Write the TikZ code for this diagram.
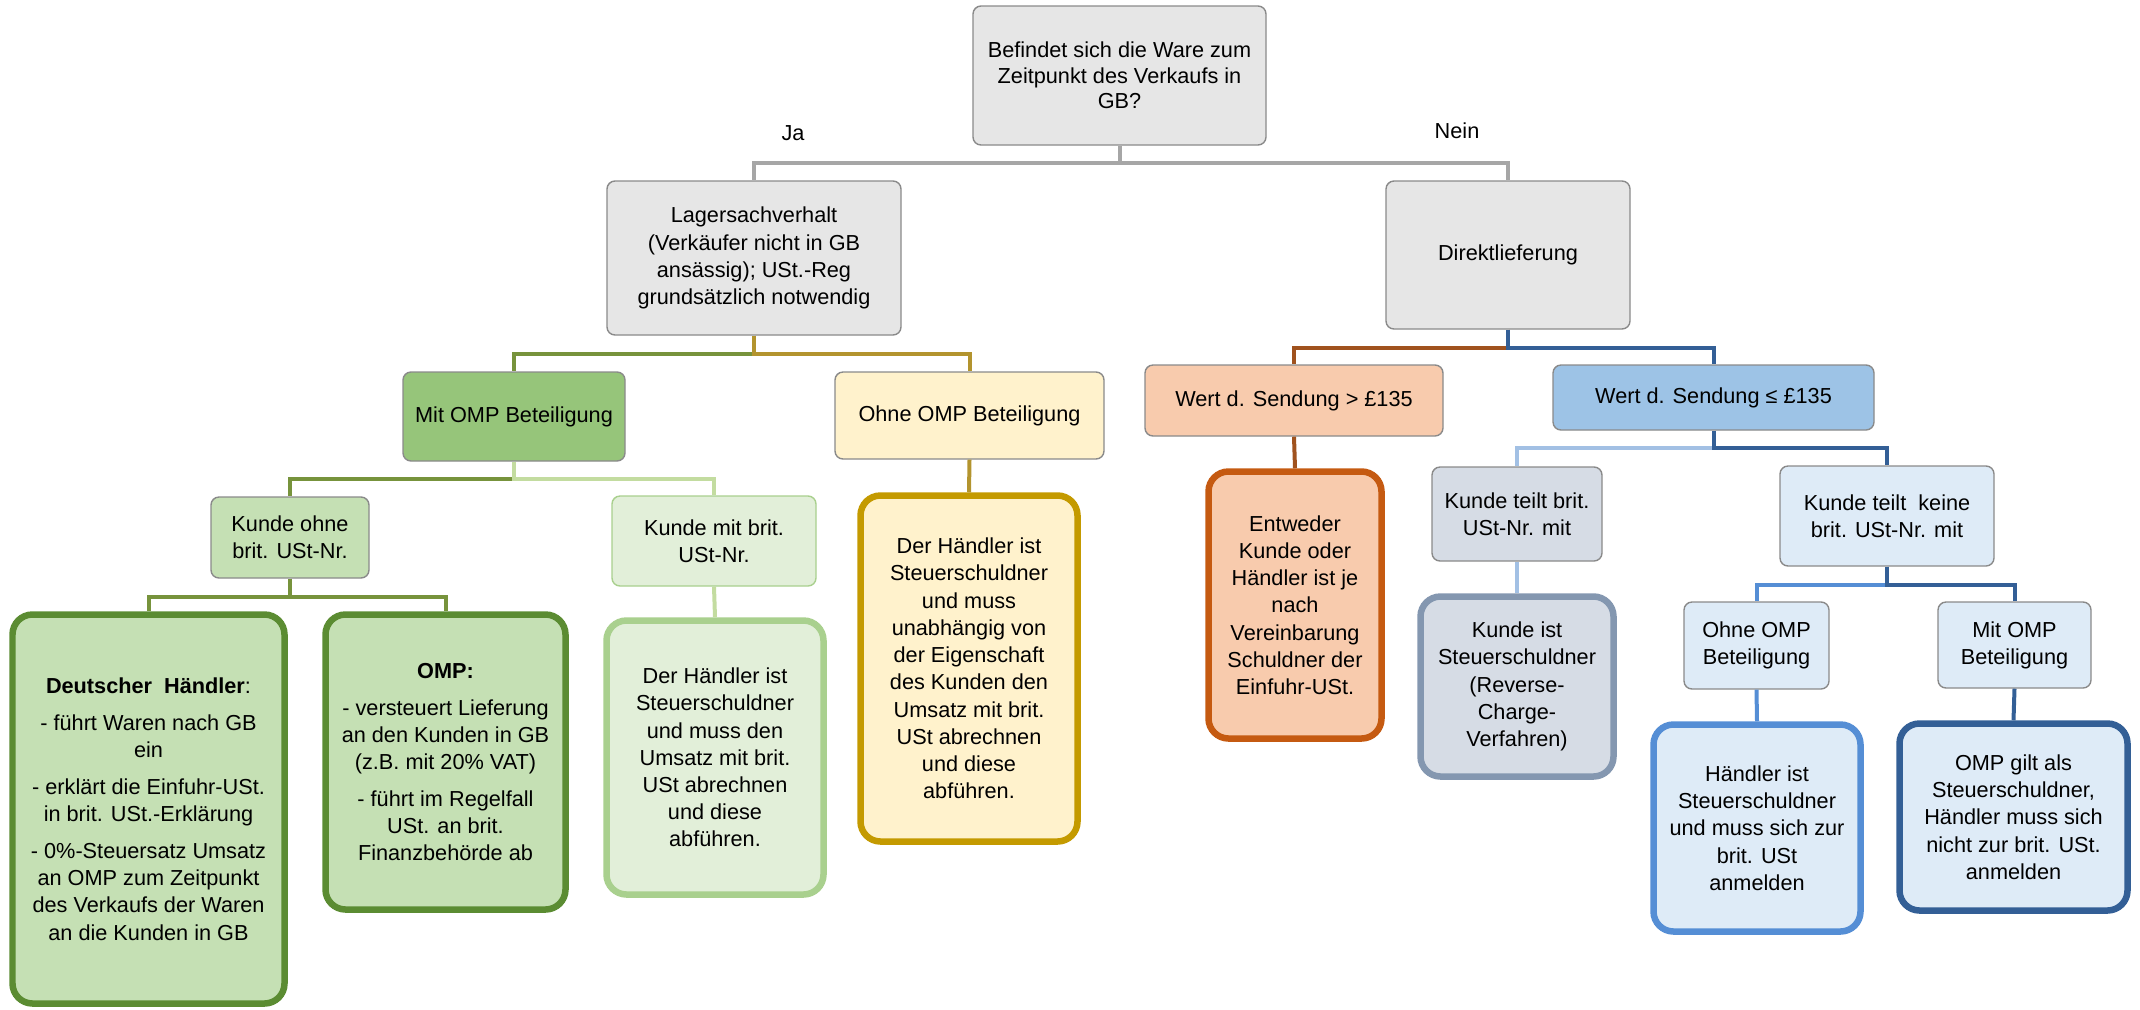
\documentclass[tikz,border=0pt]{standalone}
\usepackage{fontspec}
\setmainfont{Liberation Sans}
\definecolor{grayline}{HTML}{A6A6A6}
\definecolor{grayborder}{HTML}{8A8A8A}
\definecolor{grayfill}{HTML}{E6E6E6}
\definecolor{oliveline}{HTML}{77933C}
\definecolor{goldline}{HTML}{B3942E}
\definecolor{lightgreenline}{HTML}{C3DCA0}
\definecolor{brownline}{HTML}{A0521E}
\definecolor{darkblueline}{HTML}{335F96}
\definecolor{lightblueline}{HTML}{A2C0E4}
\definecolor{midblueline}{HTML}{558ED5}
\definecolor{greenfill}{HTML}{96C57A}
\definecolor{palegreenfill}{HTML}{C5E0B4}
\definecolor{palestgreenfill}{HTML}{E2EFD9}
\definecolor{darkgreenborder}{HTML}{5B8C32}
\definecolor{lightgreenborder}{HTML}{A9D08E}
\definecolor{creamfill}{HTML}{FFF2CC}
\definecolor{goldborder}{HTML}{C49A00}
\definecolor{salmonfill}{HTML}{F8CBAD}
\definecolor{orangeborder}{HTML}{C55A11}
\definecolor{bluefill}{HTML}{9DC3E6}
\definecolor{slatefill}{HTML}{D6DCE5}
\definecolor{slateborder}{HTML}{8497B0}
\definecolor{paleblueefill}{HTML}{DEEBF7}
\begin{document}
\begin{tikzpicture}[x=0.02cm,y=-0.02cm]

      \tikzset{box/.style={draw=grayborder, rounded corners=0.16cm, line width=0.8pt, align=center, inner sep=0pt,
                           font=\fontsize{12.35}{15.5}\selectfont},
               dims/.style 2 args={minimum width=#1*0.02cm, minimum height=#2*0.02cm},
               thickbox/.style={box, rounded corners=0.4cm, line width=0.13cm},
               link/.style={line width=0.08cm}}
      \useasboundingbox (0,0) rectangle (2140,1009);
% Boxes
      	\node[box, fill=grayfill, dims={293}{139}, font=\fontsize{12.35}{14.5}\selectfont] (frage) at (1119.5,75.5)
      	  {Befindet sich die Ware zum\\Zeitpunkt des Verkaufs in\\GB?};
      	\node[box, fill=grayfill, dims={294}{154}] (lager) at (754,258)
      	  {Lagersachverhalt\\(Verkäufer nicht in GB\\ansässig); USt.-Reg\\grundsätzlich notwendig};
      	\node[box, fill=grayfill, dims={244}{148}] (direkt) at (1508,255) {Direktlieferung};
      	\node[box, fill=greenfill, dims={222}{89}] (mitomp) at (514,416.5) {Mit OMP Beteiligung};
      	\node[box, fill=creamfill, dims={269}{87}] (ohneomp) at (969.5,415.5) {Ohne OMP Beteiligung};
      	\node[box, fill=salmonfill, dims={298}{71}] (wertgross) at (1294,400.5) {Wert d. Sendung > £135};
      	\node[box, fill=bluefill, dims={321}{65}] (wertklein) at (1713.5,397.5) {Wert d. Sendung ≤ £135};
      	\node[box, fill=palegreenfill, dims={158}{81}] (kundeohne) at (290,537.5) {Kunde ohne\\brit. USt-Nr.};
      	\node[box, draw=lightgreenborder, fill=palestgreenfill, dims={204}{90}] (kundemit) at (714,541)
      	  {Kunde mit brit.\\USt-Nr.};
      	\node[thickbox, draw=darkgreenborder, fill=palegreenfill, dims={272}{389}] (haendler) at (148.5,809)
      	  {\textbf{Deutscher\ \ Händler}:\\[5.5pt]- führt Waren nach GB\\ein\\[5.5pt]- erklärt die Einfuhr-USt.\\in brit. USt.-Erklärung\\[5.5pt]- 0\%-Steuersatz Umsatz\\an OMP zum Zeitpunkt\\des Verkaufs der Waren\\an die Kunden in GB};
      	\node[thickbox, draw=darkgreenborder, fill=palegreenfill, dims={240}{295}] (omp) at (445.5,762)
      	  {\textbf{OMP:}\\[5.5pt]- versteuert Lieferung\\an den Kunden in GB\\(z.B. mit 20\% VAT)\\[5.5pt]- führt im Regelfall\\USt. an brit.\\Finanzbehörde ab};
      	\node[thickbox, draw=lightgreenborder, fill=palestgreenfill, dims={217}{274}] (derhaendler) at (715,757.5)
      	  {Der Händler ist\\Steuerschuldner\\und muss den\\Umsatz mit brit.\\USt abrechnen\\und diese\\abführen.};
      	\node[thickbox, draw=goldborder, fill=creamfill, dims={217}{346}] (ohnehaendler) at (969,668.5)
      	  {Der Händler ist\\Steuerschuldner\\und muss\\unabhängig von\\der Eigenschaft\\des Kunden den\\Umsatz mit brit.\\USt abrechnen\\und diese\\abführen.};
      	\node[thickbox, draw=orangeborder, fill=salmonfill, dims={173}{267}] (entweder) at (1295,605)
      	  {Entweder\\Kunde oder\\Händler ist je\\nach\\Vereinbarung\\Schuldner der\\Einfuhr-USt.};
      	\node[box, fill=slatefill, dims={170}{94}] (teiltmit) at (1517,514) {Kunde teilt brit.\\USt-Nr. mit};
      	\node[box, fill=paleblueefill, dims={214}{100}] (teiltkeine) at (1887,516) {Kunde teilt\ \ keine\\brit. USt-Nr. mit};
      	\node[thickbox, draw=slateborder, fill=slatefill, dims={193}{180}] (kundeist) at (1517,686.5)
      	  {Kunde ist\\Steuerschuldner\\(Reverse-\\Charge-\\Verfahren)};
      	\node[box, fill=paleblueefill, dims={145}{87}] (ohneomprechts) at (1756.5,645.5) {Ohne OMP\\Beteiligung};
      	\node[box, fill=paleblueefill, dims={153}{86}] (mitomprechts) at (2014.5,645) {Mit OMP\\Beteiligung};
      	\node[thickbox, draw=midblueline, fill=paleblueefill, dims={207}{207}] (haendlerist) at (1757,828)
      	  {Händler ist\\Steuerschuldner\\und muss sich zur\\brit. USt\\anmelden};
      	\node[thickbox, draw=darkblueline, fill=paleblueefill, dims={228}{187}] (ompgilt) at (2013.5,817)
      	  {OMP gilt als\\Steuerschuldner,\\Händler muss sich\\nicht zur brit. USt.\\anmelden};
% Labels
      	\node[font=\fontsize{12.35}{15}\selectfont] (ja) at (793,133) {Ja};
      	\node[font=\fontsize{12.35}{15}\selectfont] (nein) at (1457,131) {Nein};
%Edges
		\draw[link, grayline] (frage.south) -- ++(0,17) -| (lager.north);
		\draw[link, grayline] (frage.south) -- ++(0,17) -| (direkt.north);
		\draw[link, oliveline] (lager.south) -- ++(0,18) -| (mitomp.north);
		\draw[link, goldline] (lager.south) -- ++(0,18) -| (ohneomp.north);
		\draw[link, brownline] (direkt.south) -- ++(0,18) -| (wertgross.north);
		\draw[link, darkblueline] (direkt.south) -- ++(0,18) -| (wertklein.north);
		\draw[link, oliveline] (mitomp.south) -- ++(0,17) -| (kundeohne.north);
		\draw[link, lightgreenline] (mitomp.south) -- ++(0,17) -| (kundemit.north);
		\draw[link, oliveline] (kundeohne.south) -- ++(0,18) -| (haendler.north);
		\draw[link, oliveline] (kundeohne.south) -- ++(0,18) -| (omp.north);
		\draw[link, lightgreenline] (kundemit.south) -- (derhaendler.north);
		\draw[link, goldline] (ohneomp.south) -- (ohnehaendler.north);
		\draw[link, brownline] (wertgross.south) -- (entweder.north);
		\draw[link, lightblueline] (wertklein.south) -- ++(0,17) -| (teiltmit.north);
		\draw[link, darkblueline] (wertklein.south) -- ++(0,17) -| (teiltkeine.north);
		\draw[link, lightblueline] (teiltmit.south) -- (kundeist.north);
		\draw[link, midblueline] (teiltkeine.south) -- ++(0,18) -| (ohneomprechts.north);
		\draw[link, darkblueline] (teiltkeine.south) -- ++(0,18) -| (mitomprechts.north);
		\draw[link, midblueline] (ohneomprechts.south) -- (haendlerist.north);
		\draw[link, darkblueline] (mitomprechts.south) -- (ompgilt.north);

\end{tikzpicture}
\end{document}
